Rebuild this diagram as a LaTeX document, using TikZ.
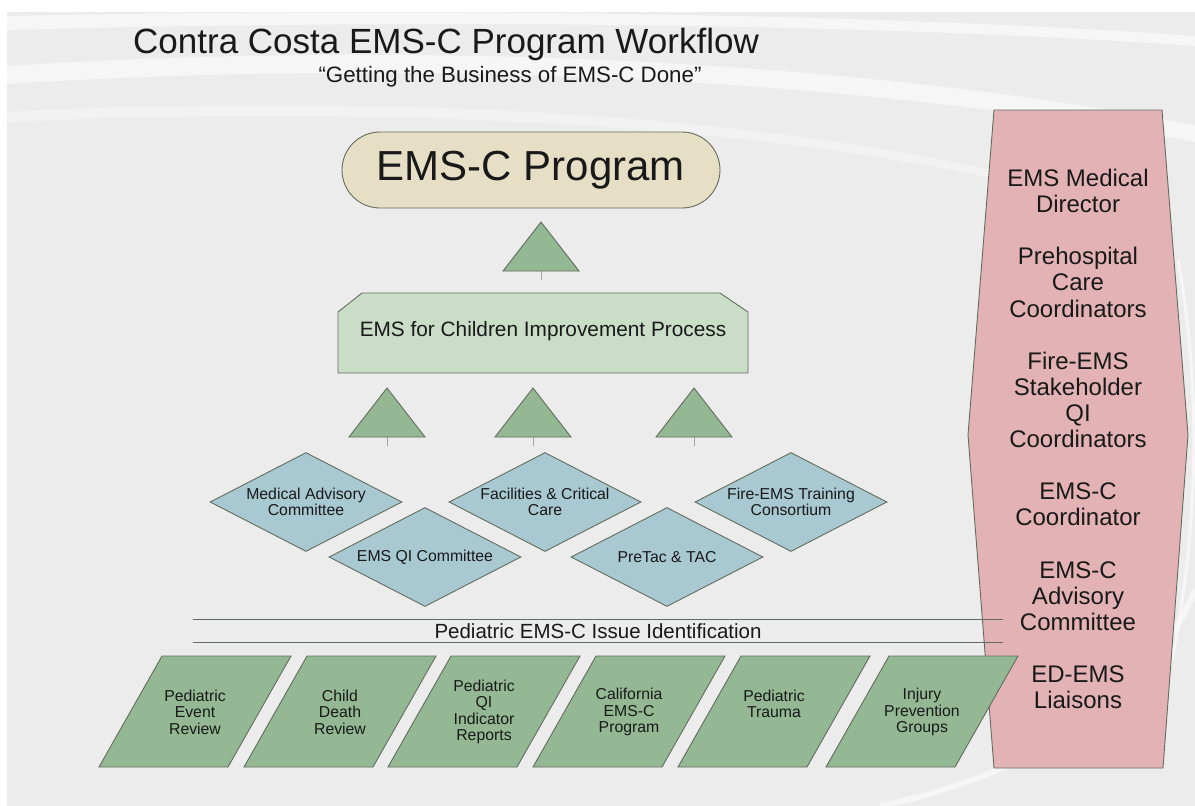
\documentclass[tikz,border=0pt]{standalone}
\usepackage{fontspec}
\setmainfont{Liberation Sans}
\usetikzlibrary{shapes.geometric}

\definecolor{slidegrey}{RGB}{236,236,236}
\definecolor{edgeline}{RGB}{100,108,94}
\definecolor{leafgreen}{RGB}{147,184,147}
\definecolor{palegreen}{RGB}{201,221,199}
\definecolor{skyblue}{RGB}{168,200,210}
\definecolor{rose}{RGB}{227,178,180}
\definecolor{sand}{RGB}{230,223,198}
\definecolor{inktext}{RGB}{25,25,25}

\newcommand{\fs}[2]{\fontsize{#1pt}{#2pt}\selectfont}

\begin{document}
\begin{tikzpicture}[x=1pt,y=-1pt,
  every node/.style={text=inktext},
  outline/.style={draw=edgeline, line width=0.9pt, line join=miter},
  arrowhead/.style={outline, fill=leafgreen},
  stem/.style={draw=edgeline!60, line width=1pt},
  procbox/.style={outline, fill=palegreen},
  committee/.style={diamond, outline, fill=skyblue, minimum width=192pt,
                    minimum height=99pt, inner sep=0pt},
  source/.style={outline, fill=leafgreen},
  staffpanel/.style={outline, fill=rose},
  rule/.style={draw=edgeline, line width=1pt},
  smalltext/.style={align=center, font=\fs{15.8}{16.5}},
  swoosh/.style={white, opacity=0.55}
]
% page and slide background
\useasboundingbox (0,0) rectangle (1195,806);
\fill[white] (0,0) rectangle (1195,806);
\fill[slidegrey] (7,12) rectangle (1195,806);

% soft white swooshes of the slide
\fill[swoosh] (7,16) .. controls (300,10) and (800,8) .. (1195,36)
   -- (1195,46) .. controls (800,18) and (300,22) .. (7,30) -- cycle;
\fill[swoosh] (7,66) .. controls (350,44) and (800,50) .. (1195,125)
   -- (1195,142) .. controls (800,68) and (350,62) .. (7,84) -- cycle;
\fill[swoosh, opacity=0.35] (7,112) .. controls (300,96) and (700,104) .. (1000,172)
   -- (1000,180) .. controls (700,114) and (300,108) .. (7,122) -- cycle;
\draw[swoosh, line width=6pt] (880,806) .. controls (1030,775) and (1150,700) .. (1195,590);
\draw[swoosh, line width=3pt] (1178,260) .. controls (1200,380) and (1200,520) .. (1172,660);

% staff column on the right
\draw[staffpanel] (994,110) -- (1162,110) -- (1188,435) -- (1163,768)
   -- (994,768) -- (968,435) -- cycle;
\node[align=center, font=\fs{24}{26.1}] (staff) at (1078,439)
  {EMS Medical\\Director\\[26.1pt]
   Prehospital\\Care\\Coordinators\\[26.1pt]
   Fire-EMS\\Stakeholder\\QI\\Coordinators\\[26.1pt]
   EMS-C\\Coordinator\\[26.1pt]
   EMS-C\\Advisory\\Committee\\[26.1pt]
   ED-EMS\\Liaisons};

% title
\node[anchor=base west, font=\fs{35}{40}, inner sep=0pt] (title) at (133,53)
  {Contra Costa EMS-C Program Workflow};
\node[anchor=base, font=\fs{22.3}{24}, inner sep=0pt] (subtitle) at (510,82)
  {“Getting the Business of EMS-C Done”};

% program box
\node[outline, fill=sand, rounded corners=38pt, minimum width=378pt,
      minimum height=76pt, font=\fs{42}{48}] (prog) at (531,170) {EMS-C Program};

% upward arrowheads with their stems
\foreach \n/\cx/\ty in {up/541/222, left/387/388, mid/533/388, right/694/388}{
  \coordinate (tip-\n) at (\cx,\ty);
  \coordinate (base-\n) at (\cx,{\ty+49});
  \coordinate (foot-\n) at (\cx,{\ty+58});
  \draw[stem] (base-\n) -- (foot-\n);
  \draw[arrowhead] (tip-\n) -- ({\cx+38},{\ty+49}) -- ({\cx-38},{\ty+49}) -- cycle;
}

% improvement process box
\draw[procbox] (338,373) -- (338,312) -- (362,293) -- (720,293) -- (748,312)
   -- (748,373) -- cycle;
\node[font=\fs{20.8}{24}] (proc) at (543,331) {EMS for Children Improvement Process};

% committees
\node[committee] (mac) at (306,502) {};
\node[committee] (qic) at (425,557) {};
\node[committee] (fcc) at (545,502) {};
\node[committee] (ptc) at (667,557) {};
\node[committee] (fet) at (791,502) {};
\node[smalltext] (mac-t) at (mac.center) {Medical Advisory\\Committee};
\node[smalltext] (qic-t) at (qic.center) {EMS QI Committee};
\node[smalltext] (fcc-t) at (fcc.center) {Facilities \& Critical\\Care};
\node[smalltext] (ptc-t) at (ptc.center) {PreTac \& TAC};
\node[smalltext] (fet-t) at (fet.center) {Fire-EMS Training\\Consortium};

% issue identification band
\coordinate (r1a) at (193,619); \coordinate (r1b) at (1003,619);
\coordinate (r2a) at (193,642); \coordinate (r2b) at (1003,642);
\draw[rule] (r1a) -- (r1b);
\draw[rule] (r2a) -- (r2b);
\node[font=\fs{20.5}{24}] (issue) at (598,631) {Pediatric EMS-C Issue Identification};

% issue sources
\foreach \n/\cx in {per/195, cdr/340, qir/484, cal/629, trm/774, inj/922}{
  \draw[source] ({\cx-33},656) -- ({\cx+96},656) -- ({\cx+33},767)
     -- ({\cx-96},767) -- cycle;
  \coordinate (src-\n) at (\cx,712);
}
\node[smalltext] (per-t) at (src-per) {Pediatric\\Event\\Review};
\node[smalltext] (cdr-t) at (src-cdr) {Child\\Death\\Review};
\node[smalltext] (qir-t) at (src-qir) {Pediatric\\QI\\Indicator\\Reports};
\node[smalltext] (cal-t) at (src-cal) {California\\EMS-C\\Program};
\node[smalltext] (trm-t) at ([yshift=8pt]src-trm) {Pediatric\\Trauma};
\node[smalltext] (inj-t) at (src-inj) {Injury\\Prevention\\Groups};
\end{tikzpicture}
\end{document}
